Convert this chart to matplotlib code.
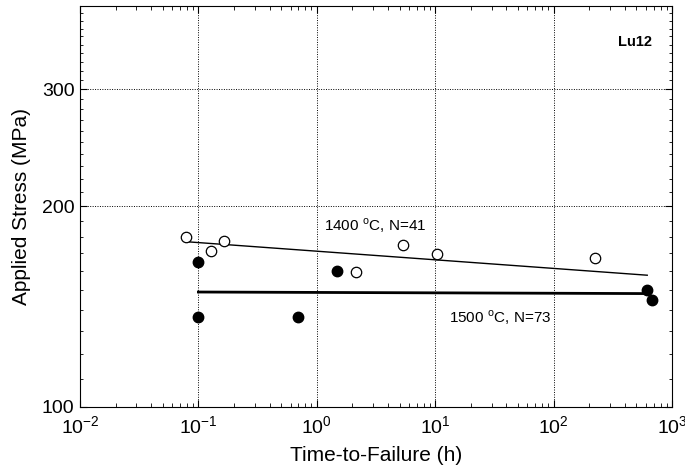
import numpy as np
import matplotlib
matplotlib.use("Agg")
import matplotlib.pyplot as plt
from matplotlib.ticker import FixedLocator, NullFormatter, LogLocator

plt.rcParams['font.family'] = ['Liberation Sans', 'DejaVu Sans']
plt.rcParams['mathtext.fontset'] = 'custom'
plt.rcParams['mathtext.rm'] = 'Liberation Sans'

# --- data ---
t_1400 = [0.078, 0.129, 0.164, 2.13, 5.31, 10.4, 224]
s_1400 = [179.9, 171.5, 177.8, 159.5, 174.9, 169.7, 167.6]

t_1500 = [0.1, 0.1, 0.69, 1.47, 611, 682]
s_1500 = [164.9, 136.5, 136.5, 159.9, 150.1, 144.6]

fit_1400_t = [0.078, 618]
fit_1400_s = [177.1, 157.7]
fit_1500_t = [0.1, 618]
fit_1500_s = [148.8, 148.0]

fig = plt.figure(figsize=(6.85, 4.75), dpi=100)
ax = fig.add_axes([0.1168, 0.1432, 0.8642, 0.8442])
ax.set_xscale('log')
ax.set_yscale('log')
ax.set_xlim(1e-2, 1e3)
ax.set_ylim(100, 400)

ax.plot(fit_1400_t, fit_1400_s, color='black', lw=1.0)
ax.plot(fit_1500_t, fit_1500_s, color='black', lw=2.0)
ax.plot(t_1400, s_1400, 'o', ms=7.5, mfc='white', mec='black', mew=0.9)
ax.plot(t_1500, s_1500, 'o', ms=7.5, mfc='black', mec='black')

# ticks
ax.yaxis.set_major_locator(FixedLocator([100, 200, 300]))
ax.yaxis.set_major_formatter(matplotlib.ticker.FixedFormatter(['100', '200', '300']))
ax.yaxis.set_minor_locator(FixedLocator(np.arange(110, 400, 10)))
ax.yaxis.set_minor_formatter(NullFormatter())
ax.xaxis.set_major_locator(LogLocator(base=10, numticks=10))
ax.xaxis.set_minor_locator(LogLocator(base=10, subs=np.arange(2, 10), numticks=20))
ax.xaxis.set_minor_formatter(NullFormatter())
ax.tick_params(which='both', direction='in', top=True, right=True, labelsize=14)
ax.tick_params(which='major', length=5, width=0.8)
ax.tick_params(which='minor', length=3, width=0.6)
ax.tick_params(axis='y', which='minor', length=2)
ax.tick_params(axis='y', pad=4)
ax.tick_params(axis='x', pad=6)

ax.grid(True, which='major', color='black', ls=(0, (1, 1.5)), lw=0.7)

ax.set_xlabel('Time-to-Failure (h)', fontsize=15, labelpad=6)
ax.set_ylabel('Applied Stress (MPa)', fontsize=15, labelpad=8)

ax.text(3.13, 187.4, r'1400 $^{\rm o}$C, N=41', fontsize=11, ha='center', va='center')
ax.text(35.3, 136.0, r'1500 $^{\rm o}$C, N=73', fontsize=11, ha='center', va='center')
ax.text(0.966, 0.928, 'Lu12', transform=ax.transAxes, fontsize=10.5, fontweight='bold',
        ha='right', va='top')

fig.savefig('out.png', dpi=100)
